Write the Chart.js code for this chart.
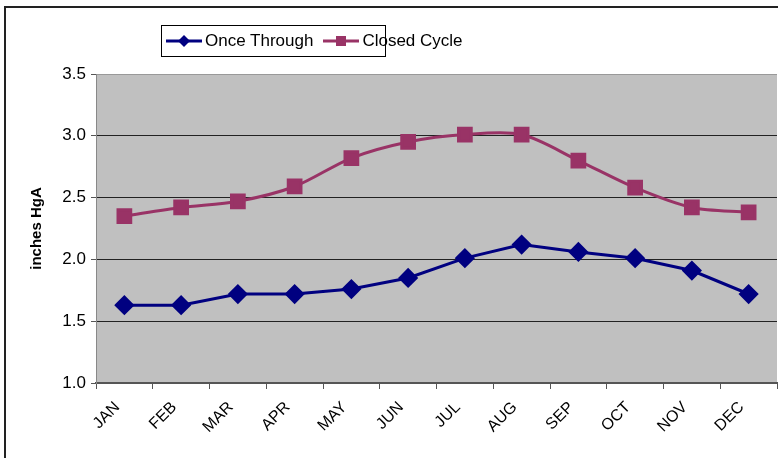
<!DOCTYPE html>
<html>
<head>
<meta charset="utf-8">
<script src="https://cdn.jsdelivr.net/npm/chart.js@4/dist/chart.umd.min.js"></script>
<style>
  body { margin: 0; background: #fff; overflow: hidden; }
  #wrap { position: relative; width: 778px; height: 458px; overflow: hidden; }
  #inner { position: absolute; left: 0; top: 0; width: 840px; height: 458px; }
  #frame { position: absolute; left: 4px; top: 6px; width: 900px; height: 600px; border: 2px solid #222; }
  #legend { position: absolute; left: 161px; top: 25px; width: 225px; height: 32px; border: 1px solid #000; background: #fff;
            font-family: "Liberation Sans", Arial, sans-serif; font-size: 17px; white-space: nowrap;
            display: flex; align-items: center; padding-left: 4px; box-sizing: border-box; }
  #legend .item { display: flex; align-items: center; margin-right: 10px; }
  #legend canvas { margin-right: 3px; }
</style>
</head>
<body>
<div id="wrap">
  <div id="frame"></div>
  <div id="inner"></div>
  <div id="legend"></div>
</div>
<script>
const months = ['JAN', 'FEB', 'MAR', 'APR', 'MAY', 'JUN', 'JUL', 'AUG', 'SEP', 'OCT', 'NOV', 'DEC'];
const onceThrough = [1.63, 1.63, 1.72, 1.72, 1.76, 1.85, 2.01, 2.12, 2.06, 2.01, 1.91, 1.72];
const closedCycle = [2.35, 2.42, 2.47, 2.59, 2.82, 2.95, 3.01, 3.01, 2.80, 2.58, 2.42, 2.38];
const yTicks = [1.0, 1.5, 2.0, 2.5, 3.0, 3.5];

const navy = '#000080';
const plum = '#993366';

// fond gris de la zone de tracé
const plotBg = {
    id: 'plotBg',
    beforeDraw(chart) {
        const a = chart.chartArea;
        const ctx = chart.ctx;
        ctx.save();
        ctx.fillStyle = '#C0C0C0';
        ctx.fillRect(a.left, a.top, a.right - a.left, a.bottom - a.top);
        ctx.restore();
    }
};

function makeChart(width) {
    const inner = document.getElementById('inner');
    inner.innerHTML = '';
    const canvas = document.createElement('canvas');
    canvas.width = width;
    canvas.height = 458;
    inner.appendChild(canvas);
    return new Chart(canvas.getContext('2d'), {
        type: 'line',
        data: {
            labels: months,
            datasets: [{
                label: 'Once Through',
                data: onceThrough,
                borderColor: navy,
                backgroundColor: navy,
                borderWidth: 3,
                pointStyle: 'rectRot',
                pointRadius: 8,
                tension: 0
            }, {
                label: 'Closed Cycle',
                data: closedCycle,
                borderColor: plum,
                backgroundColor: plum,
                borderWidth: 3,
                pointStyle: 'rect',
                pointRadius: 9,
                tension: 0.3
            }]
        },
        options: {
            responsive: false,
            animation: false,
            layout: { padding: { top: 74, right: 0, left: 0, bottom: 0 } },
            plugins: {
                legend: { display: false },
                tooltip: { enabled: false }
            },
            scales: {
                x: {
                    offset: true,
                    afterFit: function (scale) { scale.height = 75; },
                    grid: { offset: true, drawOnChartArea: false, tickLength: 6, color: '#555', lineWidth: 1 },
                    border: { color: '#555', width: 2 },
                    ticks: {
                        color: '#000',
                        minRotation: 45,
                        maxRotation: 45,
                        padding: 9,
                        labelOffset: -7,
                        font: { family: 'Liberation Sans', size: 16 }
                    }
                },
                y: {
                    min: 1.0,
                    max: 3.5,
                    afterFit: function (scale) { scale.width = 96; },
                    afterBuildTicks: function (scale) { scale.ticks = yTicks.map(v => ({ value: v })); },
                    grid: {
                        color: function (c) { return c.tick && c.tick.value === 3.5 ? '#999' : '#222'; },
                        tickColor: '#555',
                        tickLength: 5,
                        lineWidth: 1
                    },
                    border: { color: '#888', width: 1 },
                    ticks: {
                        color: '#000',
                        padding: 5,
                        font: { family: 'Liberation Sans', size: 17 },
                        callback: function (value) { return value.toFixed(1); }
                    },
                    title: {
                        display: true,
                        text: 'inches HgA',
                        color: '#000',
                        padding: { top: 28 },
                        font: { family: 'Liberation Sans', size: 15, weight: 'bold' }
                    }
                }
            }
        },
        plugins: [plotBg]
    });
}

// recréer avec un canvas plus large pour que la zone de tracé touche le bord droit (777px)
let w = 778;
let chart = makeChart(w);
for (let i = 0; i < 3; i++) {
    const extra = 777 - Math.round(chart.chartArea.right);
    if (!extra) break;
    chart.destroy();
    w += extra;
    chart = makeChart(w);
}

// légende HTML avec ligne + marqueur
function legendIcon(color, style) {
    const c = document.createElement('canvas');
    c.width = 36; c.height = 16;
    const g = c.getContext('2d');
    g.strokeStyle = color; g.lineWidth = 3;
    g.beginPath(); g.moveTo(0, 8); g.lineTo(36, 8); g.stroke();
    g.fillStyle = color;
    if (style === 'rectRot') {
        g.beginPath(); g.moveTo(18, 2); g.lineTo(24, 8); g.lineTo(18, 14); g.lineTo(12, 8); g.closePath(); g.fill();
    } else {
        g.fillRect(13, 3, 10, 10);
    }
    return c;
}
const legendEl = document.getElementById('legend');
chart.data.datasets.forEach(function (ds) {
    const item = document.createElement('span');
    item.className = 'item';
    item.appendChild(legendIcon(ds.borderColor, ds.pointStyle));
    const t = document.createElement('span');
    t.textContent = ds.label;
    item.appendChild(t);
    legendEl.appendChild(item);
});
</script>
</body>
</html>
